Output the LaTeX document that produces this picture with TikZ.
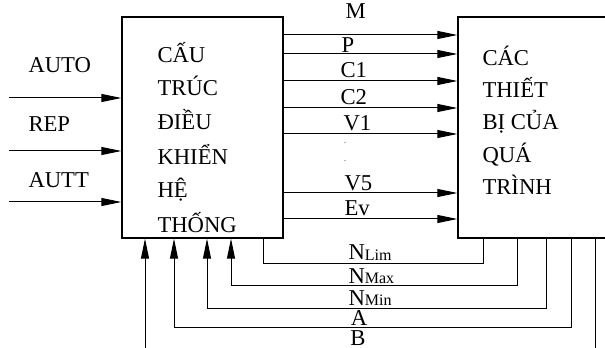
\documentclass[tikz,border=0pt]{standalone}
\usepackage{fontspec}
\setmainfont{Liberation Serif}
\usetikzlibrary{arrows.meta}
\newcommand{\subtxt}[1]{\raisebox{-0.5pt}{\fontsize{12}{12}\selectfont #1}}

\begin{document}
\begin{tikzpicture}[x=0.75pt, y=-0.75pt,
    line width=0.75pt, font=\fontsize{17}{19}\selectfont,
    blockbox/.style={draw, line width=1pt, inner sep=0pt, minimum height=165.75pt},
    txt/.style={anchor=base west, inner sep=0pt},
    sig/.style={-{Triangle[length=15pt, width=6pt]}}]
  \useasboundingbox (0,0) rectangle (605,348);

  % the two blocks
  \node[blockbox, minimum width=120.75pt] (ctrl) at (202.5, 127.5) {};
  \node[blockbox, minimum width=136.5pt] (dev) at (549, 127.5) {};

  \node[txt] (c1) at (157, 63) {CẤU};
  \node[txt] (c2) at (157, 96) {TRÚC};
  \node[txt] (c3) at (157, 130) {ĐIỀU};
  \node[txt] (c4) at (157, 165) {KHIỂN};
  \node[txt] (c5) at (157, 198) {HỆ};
  \node[txt] (c6) at (157, 233) {THỐNG};

  \node[txt] (d1) at (482, 66) {CÁC};
  \node[txt] (d2) at (482, 98) {THIẾT};
  \node[txt] (d3) at (482, 130) {BỊ CỦA};
  \node[txt] (d4) at (482, 163) {QUÁ};
  \node[txt] (d5) at (482, 195) {TRÌNH};

  % inputs on the left
  \node[txt] (auto) at (28, 73) {AUTO};
  \node[txt] (rep) at (28, 132) {REP};
  \node[txt] (autt) at (28, 188) {AUTT};
  \coordinate (inauto) at (9, 98);
  \coordinate (inrep) at (9, 151);
  \coordinate (inautt) at (9, 202);
  \draw[sig] (inauto) -- (inauto -| ctrl.west);
  \draw[sig] (inrep) -- (inrep -| ctrl.west);
  \draw[sig] (inautt) -- (inautt -| ctrl.west);

  % signals from ctrl to dev
  \draw[sig] (ctrl.east |- 0,35) -- (dev.west |- 0,35);
  \draw[sig] (ctrl.east |- 0,54) -- (dev.west |- 0,54);
  \draw[sig] (ctrl.east |- 0,81) -- (dev.west |- 0,81);
  \draw[sig] (ctrl.east |- 0,108) -- (dev.west |- 0,108);
  \draw[sig] (ctrl.east |- 0,134) -- (dev.west |- 0,134);
  \draw[sig] (ctrl.east |- 0,193) -- (dev.west |- 0,193);
  \draw[sig] (ctrl.east |- 0,219) -- (dev.west |- 0,219);
  \node[txt] (m) at (345, 19) {M};
  \node[txt] (p) at (341, 53) {P};
  \node[txt] (cc1) at (340, 78) {C1};
  \node[txt] (cc2) at (340, 105) {C2};
  \node[txt] (v1) at (343, 131) {V1};
  \node[align=center, inner sep=0pt, font=\fontsize{6}{13}\selectfont] (dots) at (345, 152) {.\\.};
  \node[txt] (v5) at (344, 191) {V5};
  \node[txt] (ev) at (344, 216) {Ev};

  % feedback lines under the blocks
  \draw (ctrl.south -| 263,0) -- ++(0,25) -| (dev.south -| 483,0);
  \draw[sig] (dev.south -| 517,0) -- ++(0,47) -| (ctrl.south -| 231,0);
  \draw[sig] (dev.south -| 546,0) -- ++(0,70) -| (ctrl.south -| 207,0);
  \draw[sig] (dev.south -| 571,0) -- ++(0,89) -| (ctrl.south -| 174,0);
  \coordinate (bout) at (595, 352);
  \coordinate (bin) at (145, 352);
  \draw (dev.south -| bout) -- (bout);
  \draw[sig] (bin) -- (bin |- ctrl.south);
  \node[txt] (nlim) at (348, 260) {N\subtxt{Lim}};
  \node[txt] (nmax) at (348, 283) {N\subtxt{Max}};
  \node[txt] (nmin) at (348, 305) {N\subtxt{Min}};
  \node[anchor=base, inner sep=0pt] (a) at (359, 325) {A};
  \node[anchor=base, inner sep=0pt] (b) at (358, 345) {B};
\end{tikzpicture}
\end{document}
